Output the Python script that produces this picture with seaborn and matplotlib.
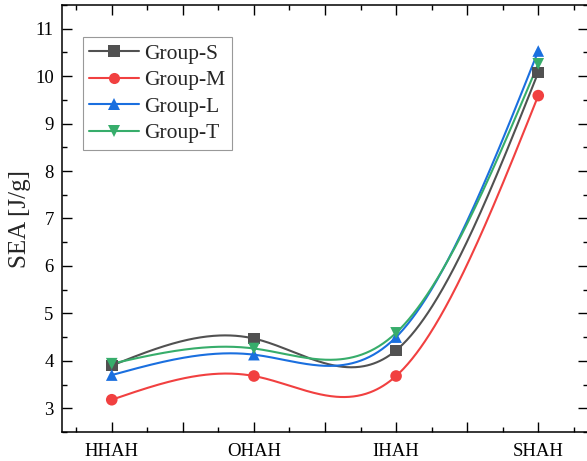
import numpy as np
import pandas as pd
import matplotlib
matplotlib.use("Agg")
import matplotlib.pyplot as plt
from matplotlib.lines import Line2D
from matplotlib.ticker import FixedLocator, MultipleLocator
import seaborn as sns

categories = ["HHAH", "OHAH", "IHAH", "SHAH"]
group_s = [3.90, 4.47, 4.22, 10.08]
group_m = [3.18, 3.68, 3.68, 9.59]
group_l = [3.70, 4.13, 4.50, 10.53]
group_t = [3.94, 4.26, 4.59, 10.26]

series = {
    "Group-S": (group_s, "#515151", "s"),
    "Group-M": (group_m, "#F14040", "o"),
    "Group-L": (group_l, "#1A6FDF", "^"),
    "Group-T": (group_t, "#37AD6B", "v"),
}


def natural_spline(x, y, xs):
    """Natural cubic spline through (x, y), evaluated at xs."""
    x = np.asarray(x, float)
    y = np.asarray(y, float)
    n = len(x)
    h = np.diff(x)
    A = np.zeros((n, n))
    b = np.zeros(n)
    A[0, 0] = A[-1, -1] = 1.0
    for i in range(1, n - 1):
        A[i, i - 1] = h[i - 1]
        A[i, i] = 2 * (h[i - 1] + h[i])
        A[i, i + 1] = h[i]
        b[i] = 6 * ((y[i + 1] - y[i]) / h[i] - (y[i] - y[i - 1]) / h[i - 1])
    M = np.linalg.solve(A, b)
    out = np.empty_like(xs)
    for k, xv in enumerate(xs):
        i = min(max(np.searchsorted(x, xv) - 1, 0), n - 2)
        t0 = x[i + 1] - xv
        t1 = xv - x[i]
        hi = h[i]
        out[k] = (M[i] * t0 ** 3 / (6 * hi) + M[i + 1] * t1 ** 3 / (6 * hi)
                  + (y[i] / hi - M[i] * hi / 6) * t0
                  + (y[i + 1] / hi - M[i + 1] * hi / 6) * t1)
    return out


sns.set_theme(style="ticks")
plt.rcParams["font.family"] = ["Liberation Serif", "DejaVu Serif"]

fig = plt.figure(figsize=(5.87, 4.61), dpi=100)
ax = fig.add_axes([62 / 587, 29 / 461, (588 - 62) / 587, (432 - 5) / 461])

xpos = np.arange(len(categories))
xs = np.linspace(0, len(categories) - 1, 400)

curve_frames = []
point_frames = []
for name, (vals, color, marker) in series.items():
    curve_frames.append(pd.DataFrame({"x": xs, "y": natural_spline(xpos, vals, xs), "group": name}))
    point_frames.append(pd.DataFrame({"x": xpos, "y": vals, "group": name}))
curves = pd.concat(curve_frames, ignore_index=True)
points = pd.concat(point_frames, ignore_index=True)

palette = {k: v[1] for k, v in series.items()}
markers = {k: v[2] for k, v in series.items()}

sns.lineplot(data=curves, x="x", y="y", hue="group", palette=palette,
             linewidth=1.5, legend=False, ax=ax, sort=False)
sns.scatterplot(data=points, x="x", y="y", hue="group", style="group",
                palette=palette, markers=markers, s=70, linewidth=0,
                legend=False, ax=ax, zorder=5)

ax.set_xlim(-0.35, 3.35)
ax.set_ylim(2.5, 11.5)

major_x = np.arange(0, 3.01, 0.5)
ax.xaxis.set_major_locator(FixedLocator(major_x))
ax.set_xticklabels([categories[int(v)] if float(v).is_integer() else "" for v in major_x])
ax.xaxis.set_minor_locator(MultipleLocator(0.25))
ax.yaxis.set_major_locator(MultipleLocator(1))
ax.yaxis.set_minor_locator(MultipleLocator(0.5))

ax.tick_params(which="both", direction="in", top=True, right=True,
               width=1.0, colors="black")
ax.tick_params(which="major", length=7)
ax.tick_params(which="minor", length=3.5)
ax.tick_params(axis="x", which="major", labelsize=13.5, pad=8)
ax.tick_params(axis="y", which="major", labelsize=13.5, pad=6)
ax.tick_params(labeltop=False, labelright=False)

for sp in ax.spines.values():
    sp.set_linewidth(1.1)
    sp.set_color("black")

ax.set_xlabel("")
ax.set_ylabel("SEA [J/g]", fontsize=18, labelpad=3)

handles = [Line2D([0], [0], color=c, marker=m, markersize=8, linewidth=1.5,
                  markeredgewidth=0, label=n)
           for n, (v, c, m) in series.items()]
leg = ax.legend(handles=handles, loc="upper left", bbox_to_anchor=(0.040, 0.925),
                fontsize=15.5, frameon=True, fancybox=False, handlelength=2.3,
                handletextpad=0.25, labelspacing=0.3, borderpad=0.3,
                borderaxespad=0)
leg.get_frame().set_edgecolor("#808080")
leg.get_frame().set_linewidth(0.8)

fig.savefig("out.png", dpi=100)
